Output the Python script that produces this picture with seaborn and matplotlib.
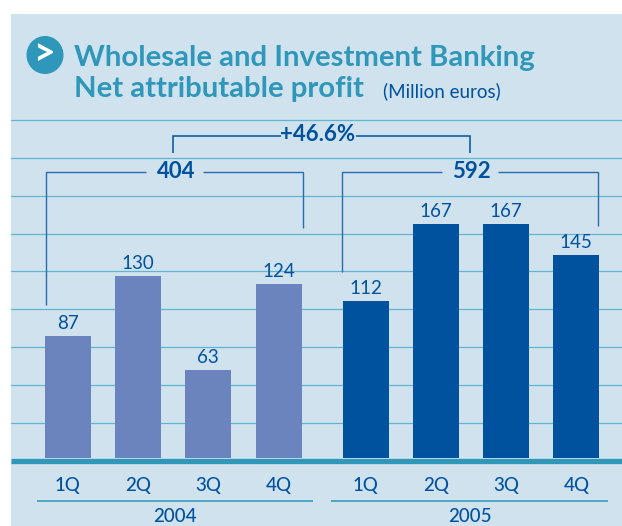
import numpy as np
import pandas as pd
import seaborn as sns
import matplotlib.pyplot as plt
from matplotlib.patches import Ellipse

# values
quarters = ['1Q', '2Q', '3Q', '4Q']
years = ['2004', '2005']
profit_2004 = [87, 130, 63, 124]
profit_2005 = [112, 167, 167, 145]
totals = [404, 592]
growth_label = '+46.6%'
title_lines = ['Wholesale and Investment Banking', 'Net attributable profit']
unit_label = '(Million euros)'

PANEL = '#cfe2ee'
TEAL = '#2f97b9'
GRID = '#63b4cf'
DARK = '#00529f'
LIGHT = '#6b84bd'
W, H = 622, 526

sns.set_theme(style='white')
plt.rcParams['font.family'] = ['Lato', 'DejaVu Sans']

df = pd.DataFrame({
    'year': [years[0]] * 4 + [years[1]] * 4,
    'quarter': quarters * 2,
    'profit': profit_2004 + profit_2005,
})
# the two years sit a bit apart on the x axis
df['pos'] = [i for i in range(4)] + [i + 4.24 for i in range(4)]

fig = plt.figure(figsize=(W / 100, H / 100), dpi=100, facecolor='white')
# panel runs off the right and bottom edge of the picture
ax = fig.add_axes([11 / W, 0, (W - 11) / W, (H - 14) / H], facecolor=PANEL)

sns.barplot(data=df, x='pos', y='profit', hue='year', palette=[LIGHT, DARK],
            native_scale=True, width=0.655, dodge=False, legend=False,
            saturation=1, linewidth=0, edgecolor='none', ax=ax, zorder=3)

ax.set_xlim(-0.81, 7.89)
ax.set_ylim(-48.6, 317)
ax.set_xlabel('')
ax.set_ylabel('')
ax.set_xticks([])
ax.set_yticks([])
sns.despine(ax=ax, left=True, bottom=True)

# horizontal rules behind the bars
for n in range(9):
    ax.axhline(25 + n * 27.05, color=GRID, lw=0.9, zorder=1)


def px(x, y):
    # picture pixels to figure fraction
    return x / W, 1 - y / H


def line(xs, ys, color=DARK, lw=1.0):
    pts = [px(a, b) for a, b in zip(xs, ys)]
    fig.add_artist(plt.Line2D([p[0] for p in pts], [p[1] for p in pts],
                              color=color, lw=lw, transform=fig.transFigure,
                              solid_joinstyle='miter', solid_capstyle='butt', zorder=5))


def label(x, y, s, size, color=DARK, weight='normal', ha='center', va='center'):
    a, b = px(x, y)
    return fig.text(a, b, s, fontsize=size, color=color, fontweight=weight,
                    ha=ha, va=va, zorder=6)


# thick baseline
line([11, W], [460.5, 460.5], color=TEAL, lw=3.8)

# value labels over the bars
for p, v in zip(df['pos'], df['profit']):
    ax.text(p, v + 3, str(v), ha='center', va='bottom', fontsize=13.5, color=DARK, zorder=6)

# quarter labels and year rules
for p, q in zip(df['pos'], df['quarter']):
    xpix = 11 + (p + 0.81) * (W - 11) / 8.7
    label(xpix, 485, q, 13.5, weight='medium')
line([37, 313], [501, 501], color=TEAL, lw=1.1)
line([331, 608], [501, 501], color=TEAL, lw=1.1)
label(175, 517, years[0], 13.5, weight='medium')
label(470, 517, years[1], 13.5, weight='medium')

# year total brackets
line([46, 46, 146], [305, 172, 172], color='#2a6cae')
line([203, 303, 303], [172, 172, 228], color='#2a6cae')
line([342, 342, 442], [272, 172, 172], color='#2a6cae')
line([498, 598, 598], [172, 172, 226], color='#2a6cae')
label(176, 171, str(totals[0]), 16, weight='bold')
label(471, 171, str(totals[1]), 16, weight='bold')

# growth bracket
line([173, 173, 281], [153, 136, 136], lw=1.1)
line([356, 470, 470], [136, 136, 153], lw=1.1)
label(318, 134, growth_label, 16, weight='bold')

# title block
label(74, 58, title_lines[0], 21.2, color=TEAL, weight='bold', ha='left')
label(74, 89, title_lines[1], 21.2, color=TEAL, weight='bold', ha='left')
label(383, 91, unit_label, 13.5, ha='left')

# arrow badge
cx, cy = px(45, 55)
fig.add_artist(Ellipse((cx, cy), 37 / W, 38 / H, transform=fig.transFigure,
                       facecolor=TEAL, edgecolor='none', zorder=5))
label(45, 54, '>', 27, color='white', weight='bold')

fig.savefig('out.png', dpi=100)
